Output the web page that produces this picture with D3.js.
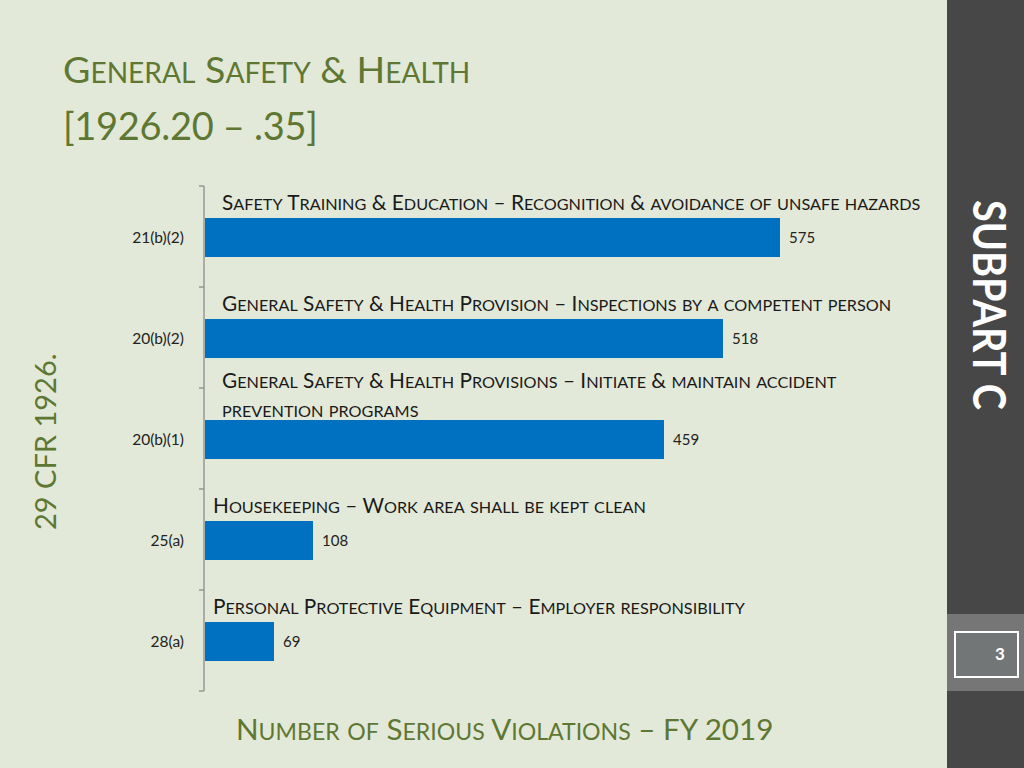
<!DOCTYPE html>
<html>
<head>
<meta charset="utf-8">
<script src="https://cdn.jsdelivr.net/npm/d3@7"></script>
<style>
  html, body { margin: 0; padding: 0; background: #e3e9d8; }
  svg { display: block; }
</style>
</head>
<body>
<svg id="chart" width="1024" height="768"></svg>
<script>
// ---- data ----
const categories = ["21(b)(2)", "20(b)(2)", "20(b)(1)", "25(a)", "28(a)"];
const values = [575, 518, 459, 108, 69];
const descriptions = [
  ["Safety Training & Education – Recognition & avoidance of unsafe hazards"],
  ["General Safety & Health Provision – Inspections by a competent person"],
  ["General Safety & Health Provisions – Initiate & maintain accident", "prevention programs"],
  ["Housekeeping – Work area shall be kept clean"],
  ["Personal Protective Equipment – Employer responsibility"]
];
const titleLines = ["General Safety & Health", "[1926.20 – .35]"];
const xAxisTitle = "Number of Serious Violations – FY 2019";
const yAxisTitle = "29 CFR 1926.";
const sideTitle = "SUBPART C";
const pageNumber = "3";

// ---- style ----
const FONT = "Lato, 'Open Sans', sans-serif";
const GREEN = "#5e7833";
const BAR = "#0070c0";
const svg = d3.select("#chart");

// small caps helper: uppercase letters full size, lowercase -> uppercase at reduced size
function smallCaps(sel, str, size, ratio) {
  const runs = [];
  for (const ch of str) {
    const isLow = ch !== ch.toUpperCase();
    if (runs.length && runs[runs.length-1].low === isLow) runs[runs.length-1].t += ch;
    else runs.push({low: isLow, t: ch});
  }
  runs.forEach(r => {
    sel.append("tspan")
      .attr("font-size", r.low ? size * ratio : size)
      .text(r.low ? r.t.toUpperCase() : r.t);
  });
  return sel;
}

// background + side panel
svg.append("rect").attr("width", 1024).attr("height", 768).attr("fill", "#e3e9d8");
svg.append("rect").attr("x", 947).attr("y", 0).attr("width", 77).attr("height", 768).attr("fill", "#474747");
svg.append("rect").attr("x", 947).attr("y", 614).attr("width", 77).attr("height", 77).attr("fill", "#767676");
svg.append("rect").attr("x", 955).attr("y", 632).attr("width", 63).attr("height", 45)
  .attr("fill", "#737676").attr("stroke", "#ffffff").attr("stroke-width", 2);
svg.append("text").attr("x", 1000).attr("y", 660).attr("text-anchor", "middle")
  .attr("font-family", FONT).attr("font-weight", "bold").attr("font-size", 17)
  .attr("fill", "#ffffff").text(pageNumber);
svg.append("text")
  .attr("transform", "translate(973,200) rotate(90)")
  .attr("font-family", FONT).attr("font-weight", "bold").attr("font-size", 45)
  .attr("fill", "#ffffff").attr("textLength", 210).attr("lengthAdjust", "spacingAndGlyphs")
  .text(sideTitle);

// title
smallCaps(svg.append("text").attr("x", 63).attr("y", 83).attr("font-family", FONT).attr("fill", GREEN),
  titleLines[0], 37.5, 0.75);
svg.append("text").attr("x", 63).attr("y", 140).attr("font-family", FONT).attr("fill", GREEN)
  .attr("font-size", 38).attr("letter-spacing", -0.3).text(titleLines[1]);

// scales
const x = d3.scaleLinear().domain([0, 575]).range([205, 780]);
const y = d3.scaleBand().domain(categories).range([186, 691]).paddingInner(0).paddingOuter(0);
const bw = y.bandwidth();
const barOff = bw * 0.317, barH = bw * 0.386;

// axis line + ticks at band edges
const axisG = svg.append("g").attr("stroke", "#8c8c8c").attr("stroke-width", 1.3);
axisG.append("line").attr("x1", 204).attr("x2", 204).attr("y1", y.range()[0]).attr("y2", y.range()[1]);
const edges = categories.map(c => y(c)).concat([y.range()[1]]);
axisG.selectAll("line.tick").data(edges).join("line").attr("class", "tick")
  .attr("x1", 199).attr("x2", 204).attr("y1", d => d).attr("y2", d => d);

// bars
svg.selectAll("rect.bar").data(categories).join("rect").attr("class", "bar")
  .attr("x", x(0)).attr("y", c => y(c) + barOff)
  .attr("width", (c, i) => x(values[i]) - x(0)).attr("height", barH)
  .attr("fill", BAR);

// category labels
svg.selectAll("text.cat").data(categories).join("text").attr("class", "cat")
  .attr("x", 184).attr("y", c => y(c) + barOff + barH / 2).attr("dy", "0.35em")
  .attr("text-anchor", "end").attr("font-family", FONT).attr("font-size", 15.5)
  .attr("fill", "#222").text(c => c);

// value labels
svg.selectAll("text.val").data(categories).join("text").attr("class", "val")
  .attr("x", (c, i) => x(values[i]) + 9).attr("y", c => y(c) + barOff + barH / 2).attr("dy", "0.35em")
  .attr("font-family", FONT).attr("font-size", 15).attr("fill", "#222").text((c, i) => values[i]);

// description annotations
const descX = [222, 222, 222, 213, 213];
descriptions.forEach((lines, i) => {
  const top = y(categories[i]);
  const base = lines.length > 1 ? top + 0 : top + 24;
  lines.forEach((ln, j) => {
    smallCaps(svg.append("text").attr("x", descX[i]).attr("y", base + j * 29)
      .attr("font-family", FONT).attr("fill", "#1a1a1a"), ln, 20.8, 0.78);
  });
});

// x axis title
smallCaps(svg.append("text").attr("x", 236).attr("y", 740).attr("font-family", FONT).attr("fill", GREEN),
  xAxisTitle, 29.6, 0.78);

// y axis title
svg.append("text").attr("transform", "translate(56,530) rotate(-90)")
  .attr("font-family", FONT).attr("font-size", 29).attr("fill", GREEN).text(yAxisTitle);
</script>
</body>
</html>
